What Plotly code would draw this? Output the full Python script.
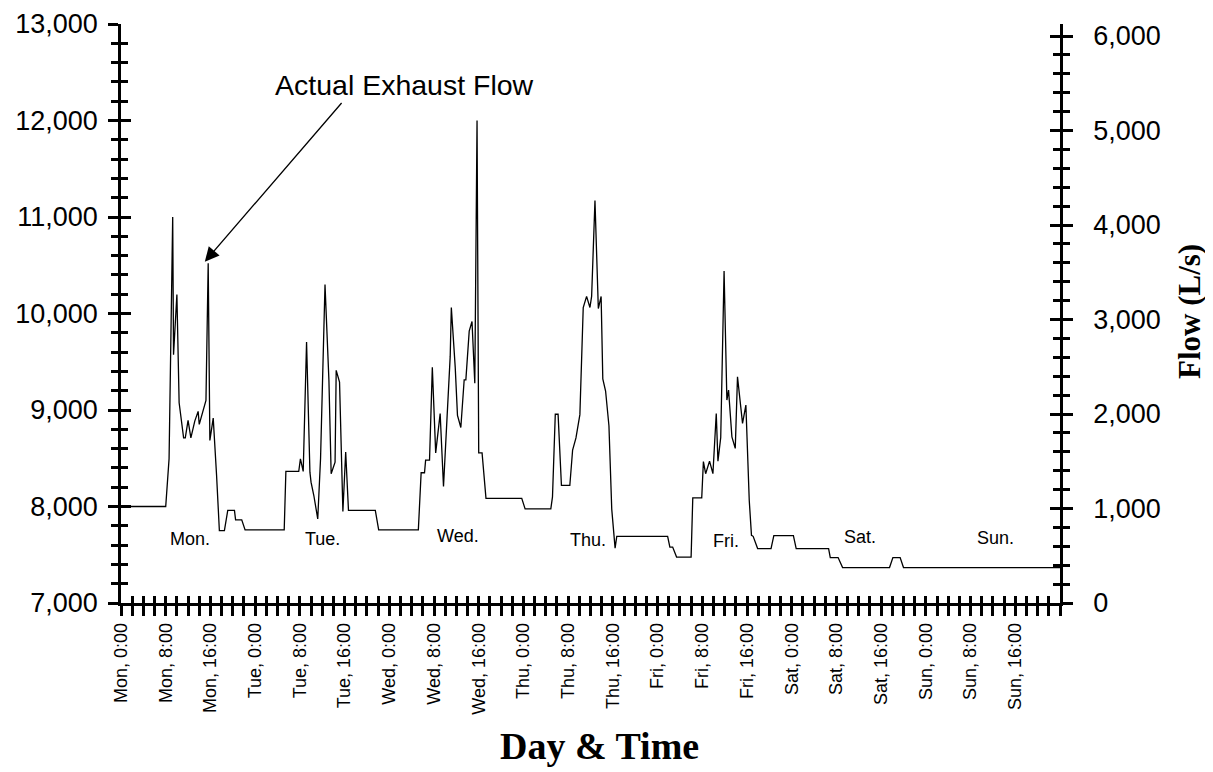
import plotly.graph_objects as go

# ---------------- data ----------------
hours = [0, 8.0, 8.6, 9.25, 9.4, 10.0, 10.4, 11.2, 11.5, 12.0, 12.5, 13.2, 13.8, 14.0,
         15.2, 15.6, 15.9, 16.5, 17.1, 17.6, 18.5, 19.1, 20.3, 20.5, 21.6, 22.2, 29.2,
         29.5, 31.8, 32.1, 32.6, 33.2, 33.8, 34.0, 34.5, 35.2, 35.7, 36.5, 37.2, 37.6,
         38.3, 38.5, 39.1, 39.7, 40.2, 40.7, 45.5, 46.1, 53.2,
         53.7, 54.3, 54.5, 55.2, 55.7, 56.3, 57.1, 57.7, 58.3, 58.9, 59.1, 59.8, 60.2,
         60.8, 61.4, 61.7, 62.3, 62.8, 63.3, 63.7, 64.0, 64.6, 65.3, 71.7, 72.3, 76.9,
         77.2, 77.7, 78.2, 78.8, 80.3, 80.8, 81.4, 82.1, 82.7, 83.3, 83.9, 84.2, 84.8,
         85.4, 85.9, 86.2, 86.7, 87.3, 87.8, 88.4, 88.7, 97.8, 98.2, 98.7, 99.4, 102.0,
         102.3, 103.9, 104.2, 104.6, 105.3, 105.9, 106.5, 106.8, 107.3, 107.9, 108.4,
         108.7, 109.3, 109.9, 110.3, 111.2, 111.8, 112.4, 112.8, 113.1, 113.9, 116.3,
         116.8, 120.3, 120.8, 126.6, 126.9, 128.3, 129.1, 137.5, 138.1, 139.4, 140.0,
         168.0]

flow = [8000, 8000, 8494, 11000, 9573, 10196, 9075, 8712, 8712, 8892, 8712, 8885, 8986, 8851,
        9100, 10520, 8685, 8916, 8322, 7751, 7751, 7959, 7959, 7862, 7862, 7758, 7758,
        8363, 8363, 8494, 8363, 9705, 8356, 8252, 8114, 7872, 8494, 10300, 9307, 8339,
        8460, 9411, 9289, 7948, 8564, 7959, 7959, 7758, 7758,
        8350, 8350, 8480, 8480, 9442, 8556, 8963, 8207, 8963, 9558, 10062, 9439, 8945,
        8819, 9313, 9313, 9817, 9918, 9277, 12000, 8556, 8556, 8085, 8085, 7975, 7975,
        8100, 8956, 8956, 8218, 8218, 8585, 8711, 8952, 10062, 10177, 10062, 10177, 11171,
        10051, 10177, 9323, 9197, 8837, 7973, 7569, 7690, 7690, 7580, 7580, 7476, 7476,
        8090, 8090, 8466, 8340, 8470, 8340, 8963, 8470, 8715, 10440, 9103,
        9206, 8722, 8602, 9345, 8861, 9051, 8065, 7702, 7691, 7564, 7564,
        7699, 7699, 7564, 7564, 7471, 7471, 7367, 7367, 7471, 7471, 7367,
        7367]

tick_hours = [0, 8, 16, 24, 32, 40, 48, 56, 64, 72, 80, 88, 96, 104, 112, 120, 128,
              136, 144, 152, 160]
tick_labels = ["Mon, 0:00", "Mon, 8:00", "Mon, 16:00", "Tue, 0:00", "Tue, 8:00",
               "Tue, 16:00", "Wed, 0:00", "Wed, 8:00", "Wed, 16:00", "Thu, 0:00",
               "Thu, 8:00", "Thu, 16:00", "Fri, 0:00", "Fri, 8:00", "Fri, 16:00",
               "Sat, 0:00", "Sat, 8:00", "Sat, 16:00", "Sun, 0:00", "Sun, 8:00",
               "Sun, 16:00"]

left_ticks = [7000, 8000, 9000, 10000, 11000, 12000, 13000]
right_ticks = [0, 1000, 2000, 3000, 4000, 5000, 6000]

day_names = ["Mon.", "Tue.", "Wed.", "Thu.", "Fri.", "Sat.", "Sun."]
day_label_hours = [12.3, 36.0, 60.3, 83.6, 108.2, 132.2, 156.4]
day_label_levels = [7660, 7660, 7690, 7650, 7640, 7680, 7670]

flow_ls = [f - 7000 for f in flow]

SANS = "Liberation Sans, Arial, sans-serif"
SERIF = "Liberation Serif, Times New Roman, serif"
X_RANGE = [0, 168]
Y_RANGE = [7000, 13000]
Y2_RANGE = [0, 6127]

fig = go.Figure()
fig.add_trace(go.Scatter(x=hours, y=flow, mode="lines",
                         line=dict(color="black", width=1.3),
                         xaxis="x", yaxis="y", hoverinfo="skip", showlegend=False))
# invisible companions so the overlay axes (inside ticks / right axis) are drawn
fig.add_trace(go.Scatter(x=hours, y=flow, mode="lines", opacity=0,
                         xaxis="x2", yaxis="y3", hoverinfo="skip", showlegend=False))
fig.add_trace(go.Scatter(x=hours, y=flow_ls, mode="lines", opacity=0,
                         xaxis="x", yaxis="y2", hoverinfo="skip", showlegend=False))
fig.add_trace(go.Scatter(x=hours, y=flow_ls, mode="lines", opacity=0,
                         xaxis="x2", yaxis="y4", hoverinfo="skip", showlegend=False))

LW = 2.5
TW = 2.5
common_x = dict(range=X_RANGE, tickmode="array", tickvals=tick_hours, showgrid=False,
                zeroline=False, tickcolor="black", tickwidth=TW, automargin=False)
fig.update_layout(
    xaxis=dict(**common_x, ticktext=tick_labels, ticks="outside", ticklen=10,
               tickangle=-90, showline=True, linewidth=LW, linecolor="black",
               tickfont=dict(family=SANS, size=18, color="black"),
               minor=dict(dtick=2, tick0=0, ticks="outside", ticklen=10,
                          tickwidth=TW, tickcolor="black"),
               anchor="y"),
    xaxis2=dict(**common_x, overlaying="x", side="bottom", anchor="y",
                ticks="inside", ticklen=7, showticklabels=False, showline=False,
                minor=dict(dtick=2, tick0=0, ticks="inside", ticklen=7,
                           tickwidth=TW, tickcolor="black")),
    yaxis=dict(range=Y_RANGE, tickmode="array", tickvals=left_ticks, tickformat=",d",
               ticks="outside", ticklen=10, tickwidth=TW, tickcolor="black",
               showline=True, linewidth=LW, linecolor="black", showgrid=False,
               zeroline=False, tickfont=dict(family=SANS, size=27, color="black"),
               ticklabelstandoff=5, automargin=False,
               minor=dict(dtick=200, tick0=7000, ticks="outside", ticklen=7,
                          tickwidth=TW, tickcolor="black"),
               anchor="x"),
    yaxis3=dict(range=Y_RANGE, overlaying="y", side="left", anchor="x",
                tickmode="array", tickvals=left_ticks, ticks="inside", ticklen=10,
                tickwidth=TW, tickcolor="black", showticklabels=False,
                showline=False, showgrid=False, zeroline=False, automargin=False,
                minor=dict(dtick=200, tick0=7000, ticks="inside", ticklen=7,
                           tickwidth=TW, tickcolor="black")),
    yaxis2=dict(range=Y2_RANGE, overlaying="y", side="right", anchor="x",
                tickmode="array", tickvals=right_ticks, tickformat=",d",
                ticks="outside", ticklen=10, tickwidth=TW, tickcolor="black",
                showline=True, linewidth=LW, linecolor="black", showgrid=False,
                zeroline=False, tickfont=dict(family=SANS, size=27, color="black"),
                ticklabelstandoff=15, automargin=False,
                minor=dict(dtick=200, tick0=0, ticks="outside", ticklen=7,
                           tickwidth=TW, tickcolor="black")),
    yaxis4=dict(range=Y2_RANGE, overlaying="y", side="right", anchor="x2",
                tickmode="array", tickvals=right_ticks, ticks="inside", ticklen=10,
                tickwidth=TW, tickcolor="black", showticklabels=False,
                showline=False, showgrid=False, zeroline=False, automargin=False,
                minor=dict(dtick=200, tick0=0, ticks="inside", ticklen=7,
                           tickwidth=TW, tickcolor="black")),
    # page body adds an 8px offset, so the figure is 8px smaller and margins shifted
    width=1205, height=764, autosize=False,
    margin=dict(l=113, r=153, t=16, b=169, autoexpand=False),
    plot_bgcolor="white", paper_bgcolor="white",
    showlegend=False,
)

# day labels
for name, hx, lv in zip(day_names, day_label_hours, day_label_levels):
    fig.add_annotation(x=hx, y=lv, xref="x", yref="y", text=name, showarrow=False,
                       font=dict(family=SANS, size=18, color="black"))

# annotation text + arrow
fig.add_annotation(x=50.8, y=12370, xref="x", yref="y", text="Actual Exhaust Flow",
                   showarrow=False, font=dict(family=SANS, size=28.5, color="black"))
fig.add_annotation(x=15.0, y=10537, xref="x", yref="y", ax=39.7, ay=12197,
                   axref="x", ayref="y", text="", showarrow=True, arrowhead=2,
                   arrowsize=2.2, arrowwidth=1.3, arrowcolor="black", standoff=0)

# axis titles
fig.add_annotation(x=0.510, y=-0.247, xref="paper", yref="paper",
                   xanchor="center", yanchor="middle", text="<b>Day & Time</b>",
                   showarrow=False, font=dict(family=SERIF, size=38, color="black"))
fig.add_annotation(x=1.1385, y=0.5026, xref="paper", yref="paper",
                   xanchor="center", yanchor="middle", text="<b>Flow (L/s)</b>",
                   textangle=-90, showarrow=False,
                   font=dict(family=SERIF, size=31, color="black"))

fig.write_html("out.html")
